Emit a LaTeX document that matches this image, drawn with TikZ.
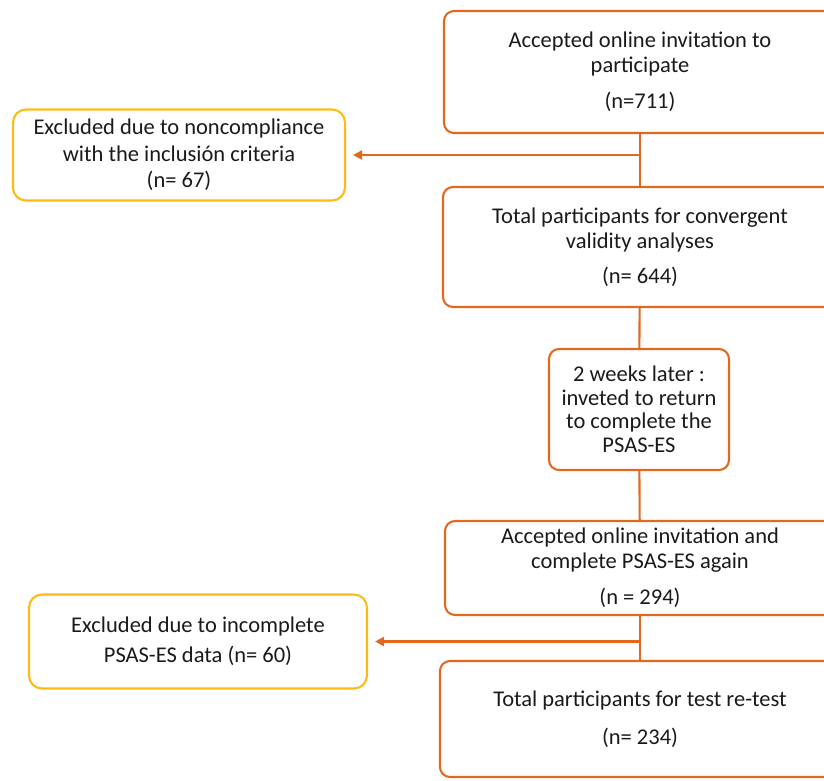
\documentclass[tikz,border=0pt]{standalone}
\usepackage{fontspec}
\setmainfont{Carlito}
\usetikzlibrary{arrows.meta}
\definecolor{orangeline}{HTML}{E4671E}
\definecolor{goldline}{HTML}{FFBA1A}
\definecolor{txt}{HTML}{1A1A1A}
\begin{document}
\begin{tikzpicture}[x=1pt,y=-1pt,
  box/.style={draw=orangeline, line width=2.1pt, rounded corners=10pt, align=center,
    font=\fontsize{22.5}{25}\selectfont, text=txt, inner sep=0pt},
  excl/.style={box, draw=goldline, rounded corners=13pt},
  link/.style={draw=orangeline, line width=2.1pt},
  arr/.style={link, -{Triangle[length=9pt,width=9pt]}, shorten >=7pt}]
\useasboundingbox (0,0) rectangle (824,780);
\clip (0,0) rectangle (824,780);
\node[box, minimum width=392pt, minimum height=122pt] (a) at (640,72)
  {Accepted online invitation to\\participate\\[11pt](n=711)};
\node[box, minimum width=394pt, minimum height=120pt] (b) at (640,247)
  {Total participants for convergent\\validity analyses\\[10pt](n= 644)};
\node[box, minimum width=180pt, minimum height=121pt,
  font=\fontsize{22.5}{23.5}\selectfont] (c) at (639,409.5)
  {2 weeks later :\\inveted to return\\to complete the\\PSAS-ES};
\node[box, minimum width=390pt, minimum height=94pt] (d) at (640,568)
  {Accepted online invitation and\\complete PSAS-ES again\\[11pt](n = 294)};
\node[box, minimum width=400pt, minimum height=116pt] (e) at (640,719)
  {Total participants for test re-test\\[13pt](n= 234)};
\node[excl, minimum width=332pt, minimum height=91pt,
  font=\fontsize{22.5}{26.5}\selectfont] (x1) at (179,155)
  {Excluded due to noncompliance\\with the inclusión criteria\\(n= 67)};
\node[excl, minimum width=338pt, minimum height=94pt,
  font=\fontsize{22.5}{30}\selectfont] (x2) at (198,641.5)
  {Excluded due to incomplete\\PSAS-ES data (n= 60)};
\draw[link] (a) -- (b);
\draw[link] (b) -- (c);
\draw[link] (c) -- (d);
\draw[link] (d) -- (e);
\draw[arr] (a.south |- x1.east) -- (x1.east);
\draw[arr] (d.south |- x2.east) -- (x2.east);
\end{tikzpicture}
\end{document}
